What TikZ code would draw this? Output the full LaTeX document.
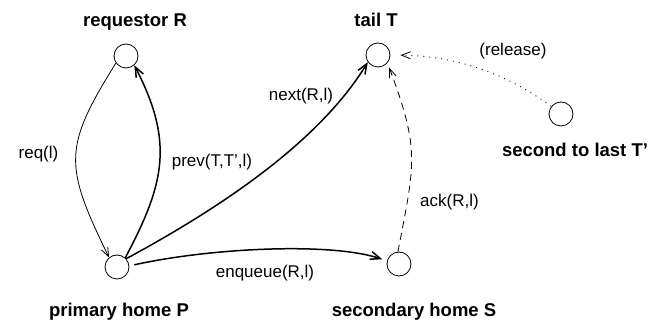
\documentclass[tikz,border=0pt]{standalone}
\usepackage{fontspec}
\setmainfont{Liberation Sans}
\usetikzlibrary{arrows.meta}
\begin{document}
\begin{tikzpicture}[x=1pt,y=-1pt,
  site/.style={circle,draw,line width=0.8pt,minimum size=24pt,inner sep=0pt},
  bold/.style={font=\fontsize{18.5}{20}\selectfont\bfseries,anchor=base,inner sep=0pt},
  lbl/.style={font=\fontsize{17}{19}\selectfont,inner sep=0pt},
  thinarr/.style={line width=0.8pt,-{Straight Barb[length=9pt,width=7pt]}},
  thickarr/.style={line width=1.5pt,-{Straight Barb[length=10pt,width=8pt]}}]
\useasboundingbox (0,0) rectangle (662,320);
\node[site] (R) at (126,56) {};
\node[site] (P) at (117,267) {};
\node[site] (T) at (378,55) {};
\node[site] (S) at (399,264) {};
\node[site] (L) at (561,114) {};
\node[bold] (Rl) at (135,27) {requestor R};
\node[bold] (Tl) at (376,27) {tail T};
\node[bold] (Pl) at (119,317) {primary home P};
\node[bold] (Sl) at (414,317) {secondary home S};
\node[bold] (Ll) at (575,157) {second to last T’};
\draw[thinarr] (R.215) .. controls (63,148) and (64,165) .. (P.130);
\draw[thickarr] (P.48) .. controls (165,183) and (174,142) .. (R.312);
\draw[thickarr] (P.42) .. controls (248,193) and (327,129) .. (T.215);
\draw[thickarr,shorten <=5pt,shorten >=5pt] (P.5) .. controls (210,248) and (330,242) .. (S.165);
\draw[thinarr,dash pattern=on 7pt off 5pt,shorten >=5pt] (S.95) .. controls (415,163) and (420,150) .. (T.320);
\draw[thinarr,dash pattern=on 1pt off 5pt,shorten >=10pt] (L.142) .. controls (507,74) and (457,56) .. (T.0);
\node[lbl] (req) at (38.5,154) {req(l)};
\node[lbl] (prev) at (212,162) {prev(T,T’,l)};
\node[lbl] (next) at (301,96) {next(R,l)};
\node[lbl] (enq) at (265,273) {enqueue(R,l)};
\node[lbl] (ack) at (449.5,202.5) {ack(R,l)};
\node[lbl] (rel) at (513,51) {(release)};
\end{tikzpicture}
\end{document}
